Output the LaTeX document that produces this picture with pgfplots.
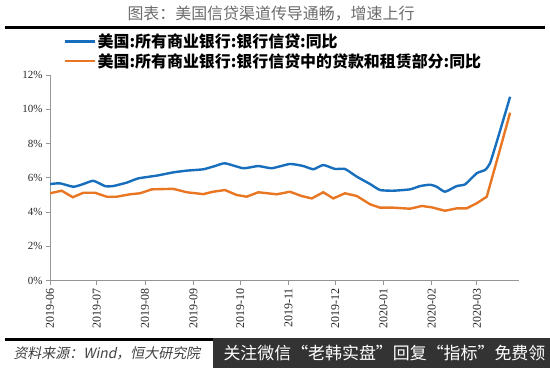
\documentclass[border=0pt]{standalone}
\usepackage{fontspec}
\usepackage{pgfplots}
\pgfplotsset{compat=1.18}
\setmainfont{Liberation Serif}
\newfontfamily\cjk{Noto Sans CJK SC}
\newfontfamily\cjkit[FakeSlant=0.2]{Noto Sans CJK SC}
\definecolor{cblue}{RGB}{22,110,188}
\definecolor{corange}{RGB}{232,118,34}
\definecolor{axgray}{RGB}{150,150,150}
\begin{document}
\begin{tikzpicture}
\useasboundingbox (0,0) rectangle (550bp,-368bp);
% title and rules
\node[font=\cjk\fontsize{16}{18}\selectfont, text=gray!85!black, anchor=center] at (271bp,-14bp) {图表：美国信贷渠道传导通畅，增速上行};
\draw[line width=3bp, black] (5bp,-27bp) -- (545bp,-27bp);
\draw[line width=3bp, black] (5bp,-339bp) -- (215bp,-339bp);
\fill[black!80] (213bp,-337.5bp) rectangle (550bp,-368bp);
\node[font=\cjkit\fontsize{14}{16}\selectfont, text=black!75, anchor=west] at (10bp,-353bp) {资料来源：Wind，恒大研究院};
\node[font=\cjk\fontsize{17}{19}\selectfont, text=white, anchor=west] at (220bp,-353bp) {关注微信“老韩实盘”回复“指标”免费领};
\begin{axis}[
  scale only axis, width=469bp, height=205.7bp,
  at={(50bp,-280.7bp)}, anchor=south west,
  xmin=0, xmax=301, ymin=0, ymax=12,
  axis lines=left,
  axis line style={draw=axgray, line width=0.9bp, -},
  tick style={draw=axgray, line width=0.9bp},
  tick align=outside, major tick length=4bp,
  xtick={0,30,61,92,122,153,183,214,245,274},
  xticklabels={2019-06,2019-07,2019-08,2019-09,2019-10,2019-11,2019-12,2020-01,2020-02,2020-03},
  x tick label style={rotate=90, anchor=east, font=\fontsize{12}{14}\selectfont, text=black!85},
  ytick={0,2,4,6,8,10,12},
  yticklabels={0\%,2\%,4\%,6\%,8\%,10\%,12\%},
  y tick label style={font=\fontsize{11}{13}\selectfont, text=black!85},
  legend style={at={(0.028,1.21)}, anchor=north west, draw=none, fill=none,
    font=\cjk\bfseries\fontsize{16}{17}\selectfont, row sep=0bp, inner sep=0bp,
    cells={anchor=west}},
  legend image code/.code={\draw[#1] (0bp,0bp) -- (30bp,0bp);},
]
\addplot[cblue, line width=2.4bp, smooth, tension=0.3] coordinates {
(0,5.64) (6.4,5.68) (15,5.48) (21.4,5.64) (27.8,5.83) (35.3,5.52) (40.4,5.52)
(49.2,5.72) (56.7,5.97) (68.5,6.13) (79.1,6.32) (87.7,6.42) (98.4,6.5)
(105.9,6.69) (112.3,6.85) (124.1,6.56) (133.7,6.69) (142.3,6.56) (154,6.81)
(162.6,6.69) (169,6.5) (175.4,6.75) (182.9,6.52) (189.3,6.52) (196.9,6.07)
(205.4,5.64) (211.8,5.29) (220.3,5.25) (231.1,5.33) (237.5,5.52) (243.9,5.6)
(248.2,5.48) (253.5,5.19) (261,5.52) (266.4,5.62) (273.9,6.27) (279.2,6.46)
(282.4,6.85) (287.7,8.4) (295.3,10.73)
};
\addlegendentry{美国:所有商业银行:银行信贷:同比}
\addplot[corange, line width=2.4bp] coordinates {
(0,5.1) (7.5,5.25) (14.6,4.87) (21.4,5.13) (28.9,5.13) (36.4,4.9) (42.8,4.9)
(51.3,5.04) (57.8,5.1) (65.3,5.33) (79.1,5.36) (87.7,5.16) (98.4,5.05)
(104.6,5.19) (112.3,5.29) (119.8,5.0) (126.2,4.9) (133.7,5.16) (145.5,5.04)
(154,5.19) (161.5,4.94) (168,4.8) (175.4,5.16) (181.8,4.8) (189.3,5.1)
(196.9,4.94) (205.4,4.46) (211.8,4.26) (220.3,4.26) (231.1,4.2) (238.6,4.36)
(245,4.28) (253.5,4.08) (261,4.22) (267.4,4.22) (273.9,4.52) (280.3,4.9)
(287.7,7.3) (295.3,9.8)
};
\addlegendentry{美国:所有商业银行:银行信贷中的贷款和租赁部分:同比}
\end{axis}
\end{tikzpicture}
\end{document}
